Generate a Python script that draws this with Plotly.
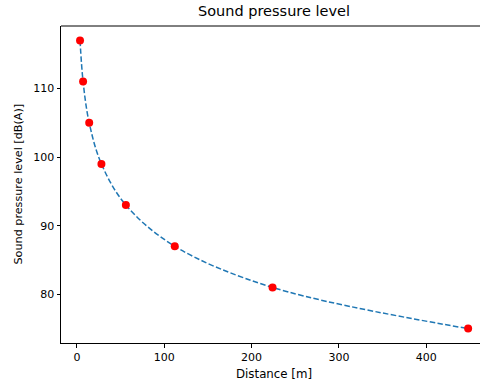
import plotly.graph_objects as go

distance = [3.5, 7, 14, 28, 56, 112, 224, 448]
spl = [117, 111, 105, 99, 93, 87, 81, 75]
x_ticks = [0, 100, 200, 300, 400]
y_ticks = [80, 90, 100, 110]

FONT = "DejaVu Sans, Liberation Sans, sans-serif"

fig = go.Figure()
fig.add_trace(go.Scatter(x=distance, y=spl, mode="lines",
                         line=dict(color="#1f77b4", width=1.5, dash="5.5px,2.4px", shape="spline", smoothing=1.0),
                         hoverinfo="skip", showlegend=False))
fig.add_trace(go.Scatter(x=distance, y=spl, mode="markers",
                         marker=dict(color="#ff0000", size=8, line=dict(width=0)),
                         showlegend=False, cliponaxis=False))

L, T, B, W, H = 61, 26, 40, 480, 383
fig.update_layout(
    width=W, height=H,
    margin=dict(l=L, r=0, t=T, b=B),
    plot_bgcolor="white", paper_bgcolor="white",
    font=dict(family=FONT, size=11, color="black"),
    xaxis=dict(range=[-18.3, 461.6], tickvals=x_ticks, showgrid=False, zeroline=False,
               showline=True, linecolor="black", linewidth=1, ticks="outside",
               ticklen=3.5, tickcolor="black", tickfont=dict(size=11)),
    yaxis=dict(range=[72.9, 119.1], tickvals=y_ticks, showgrid=False, zeroline=False,
               showline=True, linecolor="black", linewidth=1, ticks="outside",
               ticklen=3.5, tickcolor="black", tickfont=dict(size=11)),
    shapes=[dict(type="line", xref="paper", yref="paper", x0=0, x1=1, y0=1, y1=1,
                 line=dict(color="black", width=1))],
    annotations=[
        dict(text="Sound pressure level", xref="paper", yref="paper",
             x=(274 - L) / (W - L), y=1, yshift=5, xanchor="center", yanchor="bottom",
             showarrow=False, font=dict(size=14.5)),
        dict(text="Distance [m]", xref="paper", yref="paper",
             x=(274 - L) / (W - L), y=0, yshift=-22, xanchor="center", yanchor="top",
             showarrow=False, font=dict(size=11.8)),
        dict(text="Sound pressure level [dB(A)]", xref="paper", yref="paper",
             x=0, xshift=-43, y=0.5, xanchor="center", yanchor="middle", textangle=-90,
             showarrow=False, font=dict(size=11.2)),
    ],
)

fig.write_html("out.html", config={"displayModeBar": False},
               post_script="document.body.style.margin='0';document.body.style.overflow='hidden';")
